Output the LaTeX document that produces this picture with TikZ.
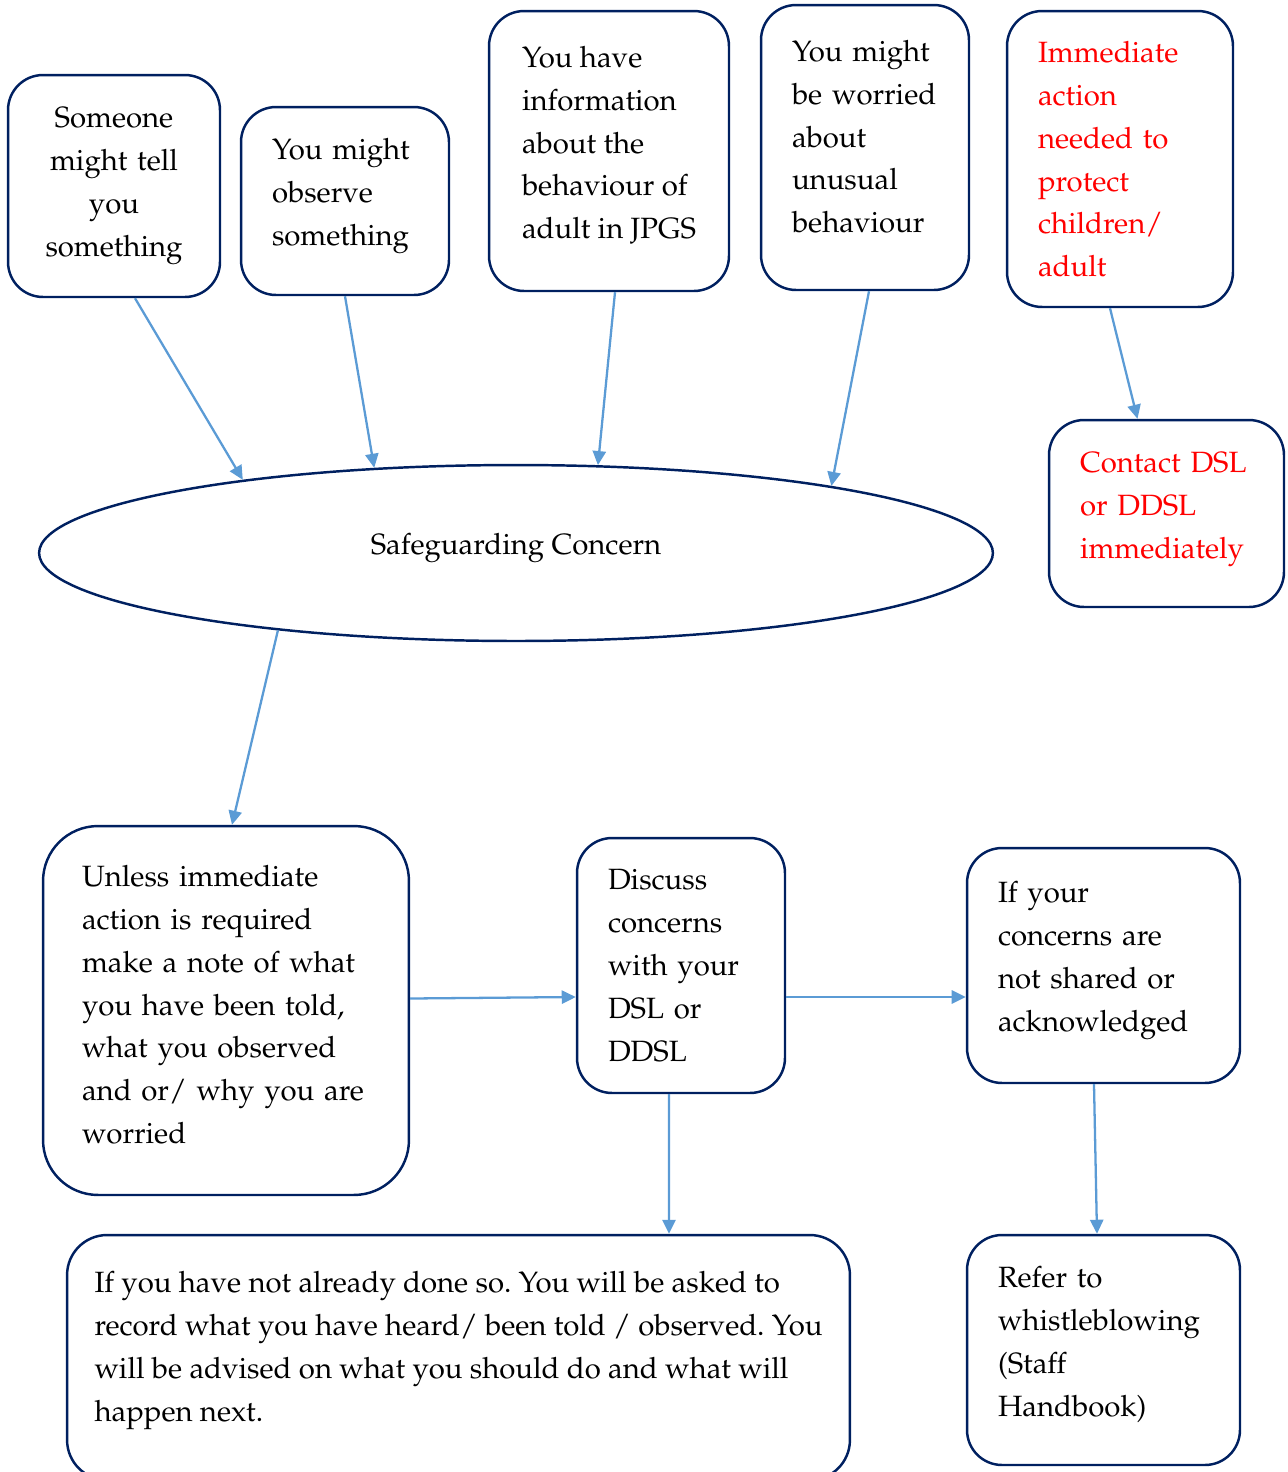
\documentclass[tikz,border=0pt]{standalone}
\usepackage[T1]{fontenc}
\usepackage{mathpazo}
\usepackage{tikz}
\usepackage{xcolor}
\usetikzlibrary{arrows.meta, calc, shapes.geometric}
\definecolor{navy}{RGB}{0,32,96}
\definecolor{arrowblue}{RGB}{91,155,213}
\definecolor{alert}{RGB}{255,0,0}
\frenchspacing
% extra depth under the last line, lifts the text a little
\newcommand{\lowerpad}[1]{\rule[-#1]{0pt}{0pt}}

\begin{document}
\begin{tikzpicture}[
    x=0.02cm,
    y=-0.02cm,
    font=\fontsize{16.7}{24.4}\selectfont,
    card/.style={draw=navy, line width=1.4pt, rounded corners=0.7cm, inner xsep=0.62cm, align=left},
    flow/.style={-{Triangle[length=8pt,width=7.5pt]}, arrowblue, line width=1.3pt}
]
\useasboundingbox (0,0) rectangle (1288,1472);

% Cases that raise a concern
\node[card, align=center, minimum width=4.24cm, minimum height=4.44cm, text width=3.00cm] (tell) at (114,186) {Someone\\ might tell\\ you\\ something};
\node[card, minimum width=4.16cm, minimum height=3.76cm, text width=2.92cm] (observe) at (345,201) {You might\\ observe\\ something\lowerpad{0.37cm}};
\node[card, minimum width=4.8cm, minimum height=5.6cm] (info) at (609,151) {You have\\ information\\ about the\\ behaviour of\\ adult in JPGS\lowerpad{0.34cm}};
\node[card, minimum width=4.16cm, minimum height=5.7cm, text width=2.92cm] (worried) at (865,147.5) {You might\\ be worried\\ about\\ unusual\\ behaviour\lowerpad{0.44cm}};

% Urgent route
\node[card, text=alert, minimum width=4.52cm, minimum height=5.92cm, text width=3.28cm] (urgent) at (1120,159) {Immediate\\ action\\ needed to\\ protect\\ children/\\ adult};
\node[card, text=alert, minimum width=4.7cm, minimum height=3.74cm, text width=3.46cm] (contact) at (1166.5,513.5) {Contact DSL\\ or DDSL\\ immediately\lowerpad{0.33cm}};

% Central concern
\node[draw=navy, line width=1.4pt, ellipse, minimum width=19.08cm, minimum height=3.52cm] (concern) at (516,553) {Safeguarding Concern\lowerpad{0.37cm}};

% Next steps
\node[card, rounded corners=1.1cm, inner xsep=0.78cm, minimum width=7.32cm, minimum height=7.38cm, text width=5.76cm] (note) at (226,1010.5) {Unless immediate\\ action is required\\ make a note of what\\ you have been told,\\ what you observed\\ and or/ why you are\\ worried\lowerpad{0.24cm}};
\node[card, minimum width=4.16cm, minimum height=5.1cm, text width=2.92cm] (discuss) at (681,965.5) {Discuss\\ concerns\\ with your\\ DSL or\\ DDSL};
\node[card, minimum width=5.46cm, minimum height=4.7cm, text width=4.22cm] (notshared) at (1103.5,965.5) {If your\\ concerns are\\ not shared or\\ acknowledged\lowerpad{0.37cm}};
\node[card, rounded corners=0.8cm, inner xsep=0.5cm, minimum width=15.66cm, minimum height=4.9cm] (advice) at (458.5,1357.5) {If you have not already done so. You will be asked to\\ record what you have heard/ been told / observed. You\\ will be advised on what you should do and what will\\ happen next.\lowerpad{0.45cm}};
\node[card, minimum width=5.46cm, minimum height=4.6cm, text width=4.22cm] (whistle) at (1103.5,1350) {Refer to\\ whistleblowing\\ (Staff\\ Handbook)\lowerpad{0.35cm}};

% Arrows
\draw[flow] ($(tell.south)+(21,0)$) -- (concern.165);
\draw[flow] (observe.south) -- (concern.149);
\draw[flow] ($(info.south)+(6,0)$) -- (concern.47);
\draw[flow] ($(worried.south)+(4,0)$) -- (concern.12);
\draw[flow] ($(urgent.south)+(-10,0)$) -- ($(contact.north)+(-29,0)$);
\draw[flow] (concern.198) -- ($(note.north)+(6,0)$);
\draw[flow] ($(note.east)+(0,-12)$) -- ($(discuss.west)+(0,31.5)$);
\draw[flow] ($(discuss.east)+(0,31.5)$) -- ($(notshared.west)+(0,31.5)$);
\draw[flow] ($(discuss.south)+(-12,0)$) -- ($(advice.north)+(210.5,0)$);
\draw[flow] ($(notshared.south)+(-9.5,0)$) -- ($(whistle.north)+(-6.5,0)$);

\end{tikzpicture}
\end{document}
